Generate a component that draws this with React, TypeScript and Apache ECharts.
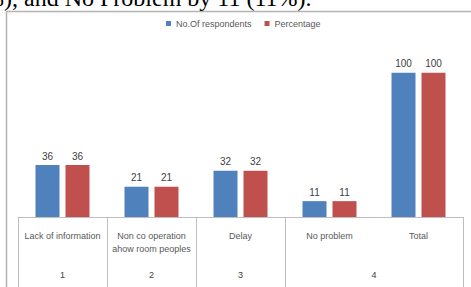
import React, { useEffect, useRef } from "react";
import * as echarts from "echarts";

const categories = ["Lack of information", "Non co operation\nahow room peoples", "Delay", "No problem", "Total"];
const respondents = [36, 21, 32, 11, 100];
const percentage = [36, 21, 32, 11, 100];
const groupLabels = ["1", "2", "3", "4"];
const groupBounds = [0, 1, 2, 3, 5];
const headerText = "%), and No Problem by 11 (11%).";

export default function App() {
  const ref = useRef<HTMLDivElement>(null);
  useEffect(() => {
    if (!ref.current) return;
    const chart = echarts.init(ref.current, undefined, { renderer: "svg" });
    const centers = groupLabels.map((_, i) => (groupBounds[i] + groupBounds[i + 1]) / 2);
    const font = "Liberation Sans";
    chart.setOption({
      animation: false,
      backgroundColor: "#ffffff",
      graphic: [
        {
          type: "rect",
          shape: { x: 6.5, y: 11.5, width: 520, height: 320 },
          style: { fill: "none", stroke: "#b3b3b3", lineWidth: 1.5 },
          z: 0,
        },
        {
          type: "text",
          x: -16,
          y: -2.5,
          style: {
            text: headerText,
            font: "24px 'Liberation Serif'",
            fill: "#000000",
            verticalAlign: "middle",
            align: "left",
          },
          z: 10,
        },
      ],
      legend: {
        left: 166,
        top: 19,
        padding: 0,
        itemWidth: 5,
        itemHeight: 5,
        itemGap: 13,
        icon: "rect",
        textStyle: { fontFamily: font, fontSize: 9, color: "#595959" },
        data: ["No.Of respondents", "Percentage"],
      },
      grid: { left: 18, right: 8, top: 44, bottom: 70, containLabel: false },
      xAxis: [
        {
          type: "category",
          data: categories,
          axisLine: { lineStyle: { color: "#bfbfbf", width: 1 } },
          axisTick: { show: false },
          axisLabel: { fontFamily: font, fontSize: 9, color: "#595959", margin: 12, lineHeight: 13, interval: 0 },
        },
        {
          type: "value",
          min: 0,
          max: 5,
          position: "bottom",
          axisLine: { show: false },
          splitLine: { show: false },
          axisTick: { show: true, customValues: groupBounds, length: 70, lineStyle: { color: "#bfbfbf" } },
          axisLabel: {
            customValues: centers,
            margin: 53,
            fontFamily: font,
            fontSize: 9,
            color: "#404040",
            formatter: (v: number) => {
              const i = centers.findIndex((c) => Math.abs(c - v) < 1e-6);
              return i >= 0 ? groupLabels[i] : "";
            },
          },
        },
      ],
      yAxis: { type: "value", min: 0, max: 120, show: false },
      series: [
        {
          name: "No.Of respondents",
          type: "bar",
          data: respondents,
          barWidth: 24,
          barGap: "25%",
          itemStyle: { color: "#4F81BD" },
          label: { show: true, position: "top", distance: 4, fontFamily: font, fontSize: 10, color: "#404040" },
        },
        {
          name: "Percentage",
          type: "bar",
          data: percentage,
          barWidth: 24,
          barGap: "25%",
          itemStyle: { color: "#C0504D" },
          label: { show: true, position: "top", distance: 4, fontFamily: font, fontSize: 10, color: "#404040" },
        },
      ],
    });
    return () => chart.dispose();
  }, []);
  return <div ref={ref} style={{ position: "absolute", left: 0, top: 0, width: 471, height: 287 }} />;
}
